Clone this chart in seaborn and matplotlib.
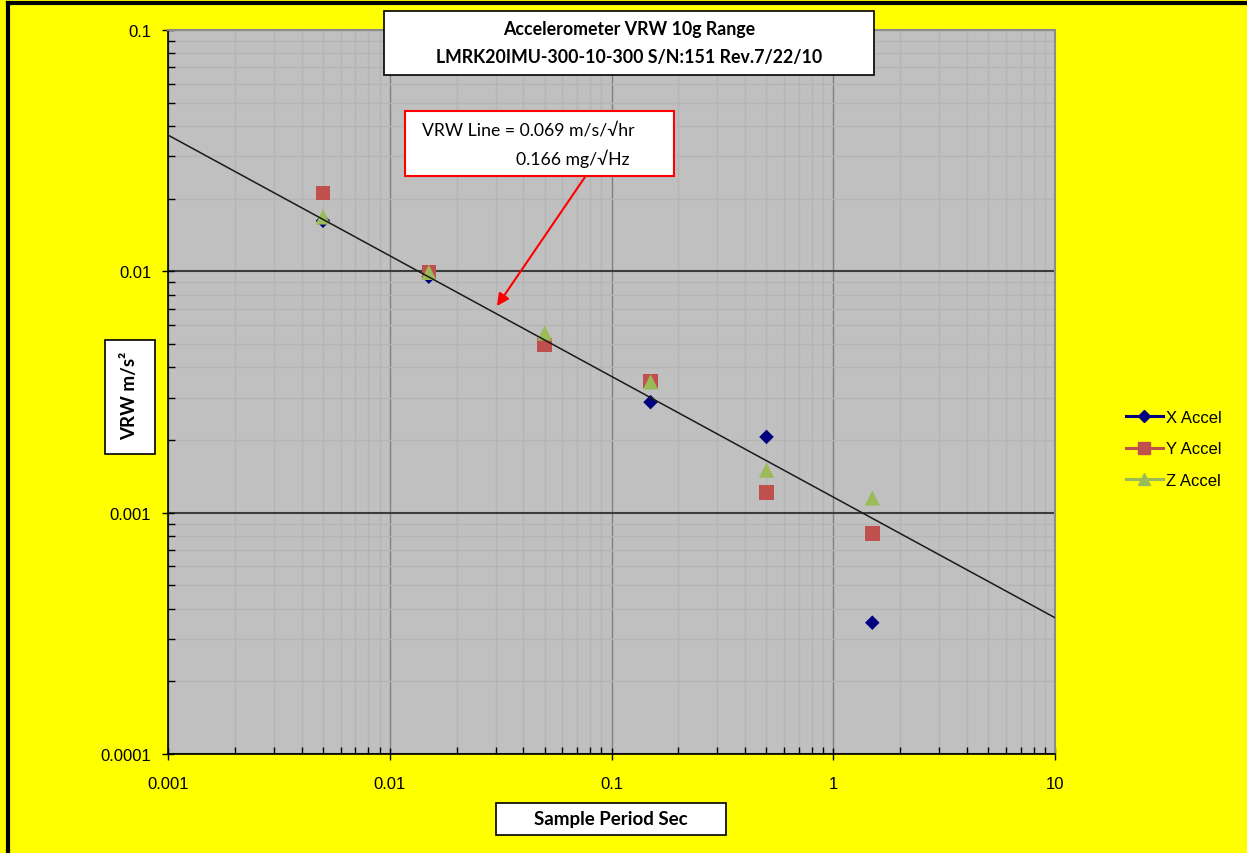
import matplotlib
matplotlib.use('Agg')
import matplotlib.pyplot as plt
import matplotlib.ticker as mticker
from matplotlib.lines import Line2D
from matplotlib.patches import Rectangle
import pandas as pd
import seaborn as sns

# data
sample_period = [0.005, 0.015, 0.05, 0.15, 0.5, 1.5]
x_accel = [0.0162, 0.0095, 0.0051, 0.00287, 0.00206, 0.00035]
y_accel = [0.0211, 0.0099, 0.00495, 0.00351, 0.00121, 0.00082]
z_accel = [0.0168, 0.0099, 0.00555, 0.00348, 0.00150, 0.00115]
series_names = ['X Accel', 'Y Accel', 'Z Accel']

# VRW trend line end points
vrw_line_x = [0.001, 10]
vrw_line_y = [0.0367, 0.000367]

x_ticks = [0.001, 0.01, 0.1, 1, 10]
x_tick_labels = ['0.001', '0.01', '0.1', '1', '10']
y_ticks = [0.0001, 0.001, 0.01, 0.1]
y_tick_labels = ['0.0001', '0.001', '0.01', '0.1']

title_lines = ['Accelerometer VRW 10g Range', 'LMRK20IMU-300-10-300 S/N:151 Rev.7/22/10']
note_lines = ['VRW Line = 0.069 m/s/\u221ahr', '0.166 mg/\u221aHz']

colors = {'X Accel': '#000080', 'Y Accel': '#c0504d', 'Z Accel': '#9bbb59'}
markers = {'X Accel': 'D', 'Y Accel': 's', 'Z Accel': '^'}
sizes = {'X Accel': 55, 'Y Accel': 110, 'Z Accel': 120}

W, H = 1247, 854
box_font = ['Lato', 'DejaVu Sans']


def px(x, y):
    return x / W, 1 - y / H


def fig_box(fig, x0, y0, x1, y1, edge='black', lw=1.2):
    fx, fy = px(x0, y1)
    fig.patches.append(Rectangle((fx, fy), (x1 - x0) / W, (y1 - y0) / H,
                                 transform=fig.transFigure, facecolor='white',
                                 edgecolor=edge, linewidth=lw, zorder=5))


df = pd.DataFrame({
    'period': sample_period * 3,
    'vrw': x_accel + y_accel + z_accel,
    'series': [s for s in series_names for _ in sample_period],
})

plt.rcParams['font.family'] = ['Liberation Sans', 'DejaVu Sans']

fig = plt.figure(figsize=(W / 100, H / 100), dpi=100, facecolor='#ffff00')
ax = fig.add_axes([168 / W, 1 - 755 / H, (1055 - 168) / W, (755 - 31) / H])
ax.set_facecolor('#c0c0c0')

sns.scatterplot(data=df, x='period', y='vrw', hue='series', style='series', size='series',
                palette=colors, markers=markers, sizes=sizes, hue_order=series_names,
                edgecolor='none', linewidth=0, legend=False, ax=ax, zorder=3)
sns.lineplot(x=vrw_line_x, y=vrw_line_y, color='#1a1a1a', linewidth=1.1, ax=ax, zorder=4)

ax.set_xscale('log')
ax.set_yscale('log')
ax.set_xlim(vrw_line_x[0], vrw_line_x[1])
ax.set_ylim(y_ticks[0], y_ticks[-1])
ax.set_xticks(x_ticks)
ax.set_xticklabels(x_tick_labels)
ax.set_yticks(y_ticks)
ax.set_yticklabels(y_tick_labels)
ax.xaxis.set_minor_locator(mticker.LogLocator(base=10, subs=range(2, 10)))
ax.yaxis.set_minor_locator(mticker.LogLocator(base=10, subs=range(2, 10)))
ax.xaxis.set_minor_formatter(mticker.NullFormatter())
ax.yaxis.set_minor_formatter(mticker.NullFormatter())
ax.set_xlabel('')
ax.set_ylabel('')

ax.grid(which='minor', color='#b5b5b5', linewidth=1)
ax.xaxis.grid(True, which='major', color='#808080', linewidth=1)
ax.yaxis.grid(True, which='major', color='#3c3c3c', linewidth=1.5)
ax.set_axisbelow(True)

ax.tick_params(which='major', direction='inout', length=8, width=1, labelsize=12)
ax.tick_params(which='minor', direction='in', length=5, width=1)
ax.tick_params(axis='x', which='major', pad=12)
ax.tick_params(axis='y', which='major', pad=8)
for s in ['left', 'bottom']:
    ax.spines[s].set_color('black')
    ax.spines[s].set_linewidth(1.2)
for s in ['top', 'right']:
    ax.spines[s].set_color('#8c8c8c')
    ax.spines[s].set_linewidth(1.5)

# title box
fig_box(fig, 384, 12, 874, 76)
for txt, yy in zip(title_lines, [30, 58]):
    fx, fy = px(629, yy)
    fig.text(fx, fy, txt, ha='center', va='center', fontsize=12.8, fontweight='bold',
             family=box_font, zorder=6)

# axis label boxes
fig_box(fig, 105, 341, 155, 455)
fx, fy = px(130, 396)
fig.text(fx, fy, 'VRW m/s\u00b2', rotation=90, ha='center', va='center', fontsize=13.5,
         fontweight='bold', family=box_font, zorder=6)
fig_box(fig, 496, 804, 726, 836)
fx, fy = px(611, 820)
fig.text(fx, fy, 'Sample Period Sec', ha='center', va='center', fontsize=13.5,
         fontweight='bold', family=box_font, zorder=6)

# annotation box with arrow
fig_box(fig, 405, 112, 674, 177, edge='#ff0000', lw=1.5)
fx, fy = px(635, 131)
fig.text(fx, fy, note_lines[0], ha='right', va='center', fontsize=12.7, family=box_font, zorder=6)
fx, fy = px(630, 159)
fig.text(fx, fy, note_lines[1], ha='right', va='center', fontsize=12.7, family=box_font, zorder=6)
ax.annotate('', xy=px(497, 307), xycoords='figure fraction',
            xytext=px(585, 178), textcoords='figure fraction',
            arrowprops=dict(arrowstyle='-|>', color='#ff0000', lw=1.5,
                            mutation_scale=18, shrinkA=0, shrinkB=0), zorder=6)

# legend
handles = [Line2D([], [], color=colors[n], marker=markers[n], markersize=8 if n != 'X Accel' else 6.5,
                  linewidth=2.2, label=n) for n in series_names]
fig.legend(handles=handles, loc='center left', bbox_to_anchor=px(1111, 450), frameon=False,
           fontsize=12, handlelength=2.2, handletextpad=0.2, labelspacing=1.0)

# outer frame
fig.add_artist(Line2D([8 / W, 1], [1 - 4 / H, 1 - 4 / H], transform=fig.transFigure,
                      color='black', linewidth=3))
fig.add_artist(Line2D([8 / W, 8 / W], [0, 1 - 4 / H], transform=fig.transFigure,
                      color='black', linewidth=3))

fig.savefig('out.png', dpi=100, facecolor=fig.get_facecolor())
